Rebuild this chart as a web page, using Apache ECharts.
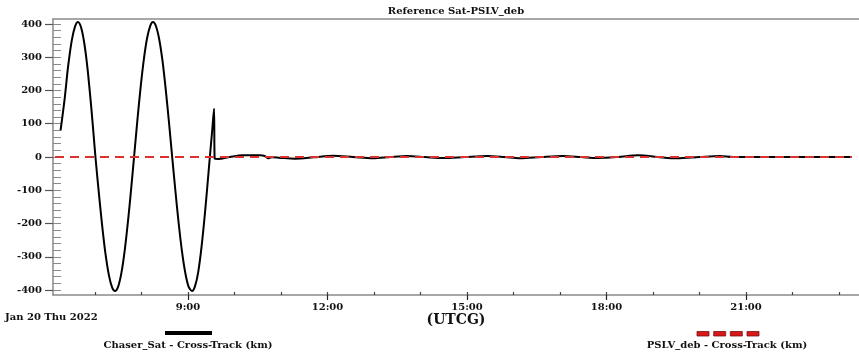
<!DOCTYPE html>
<html>
<head>
<meta charset="utf-8">
<title>Reference Sat-PSLV_deb</title>
<script src="https://cdn.jsdelivr.net/npm/echarts@6/dist/echarts.min.js"></script>
<style>
  html, body { margin: 0; padding: 0; background: #ffffff; }
  #chart { width: 859px; height: 354px; }
</style>
</head>
<body>
<div id="chart"></div>
<script>
// Cross-track separation, hours of Jan 20 2022 (UTCG)
const chaserHours = [
  6.26, 6.35, 6.42, 6.50, 6.57, 6.634, 6.70, 6.77, 6.84, 6.92, 6.97, 7.01,
  7.08, 7.15, 7.22, 7.30, 7.37, 7.43, 7.50, 7.57, 7.64, 7.72, 7.78, 7.84,
  7.91, 7.98, 8.05, 8.12, 8.19, 8.247, 8.31, 8.38, 8.45, 8.52, 8.59, 8.66,
  8.73, 8.80, 8.87, 8.94, 9.01, 9.086, 9.15, 9.22, 9.29, 9.36, 9.42, 9.47,
  9.52, 9.56, 9.575, 9.65, 9.90, 10.18, 10.55, 10.65, 10.72, 10.80, 10.95, 11.30,
  11.70, 12.12, 12.55, 12.98, 13.35, 13.71, 14.10, 14.48, 14.95, 15.43, 15.80, 16.14,
  16.60, 17.06, 17.45, 17.80, 18.25, 18.68, 19.10, 19.52, 20.00, 20.44, 20.72, 23.28
];
const chaserKm = [
  80, 178, 270, 350, 392, 406, 390, 342, 265, 149, 67, 0,
  -104, -201, -285, -356, -393, -403, -389, -347, -280, -179, -92, 0,
  108, 208, 293, 357, 395, 406, 394, 355, 291, 205, 106, 0,
  -103, -200, -283, -347, -389, -403, -389, -346, -272, -176, -82, 0,
  79, 145, -5, -6, 0, 5, 5, 3, -4, -1, -2, -5,
  -1, 4, 0, -4, 0, 3, 0, -3, 0, 3, 0, -4,
  0, 3, 0, -3, 0, 5, 0, -4, 0, 3, 0, 0
];
const debHours = [6.14, 23.28];
const debKm = [0, 0];

// Axis ticks and labels
const xMinorHours = [7, 8, 9, 10, 11, 12, 13, 14, 15, 16, 17, 18, 19, 20, 21, 22, 23];
const xLabelHours = [9, 12, 15, 18, 21];
const yLabelKm = [-400, -300, -200, -100, 0, 100, 200, 300, 400];
const yMinorStep = 20;

const X_MIN = 6.097, X_MAX = 23.43;
const Y_MIN = -415, Y_MAX = 415;

const yMinorKm = [];
for (let v = -400; v <= 400; v += yMinorStep) yMinorKm.push(v);

const FONT = '"DejaVu Serif", "Liberation Serif", serif';
const AXIS_GREY = '#8a8a8a';
const CHASER_COLOR = '#000000';
const DEB_COLOR = '#dd3030';

const zip = (a, b) => a.map((x, i) => [x, b[i]]);

const chart = echarts.init(document.getElementById('chart'), null, { renderer: 'canvas' });

chart.setOption({
  animation: false,
  backgroundColor: '#ffffff',
  grid: { left: 53, right: 0, top: 19, bottom: 59, containLabel: false },
  xAxis: [
    {
      type: 'value', position: 'bottom', min: X_MIN, max: X_MAX,
      axisLine: { show: true, onZero: false, lineStyle: { color: AXIS_GREY, width: 1.5 } },
      axisTick: { show: true, inside: true, length: 3, customValues: xMinorHours,
                  lineStyle: { color: '#444', width: 1.2 } },
      axisLabel: { show: false },
      splitLine: { show: false }
    },
    {
      type: 'value', position: 'bottom', min: X_MIN, max: X_MAX,
      axisLine: { show: false, onZero: false },
      axisTick: { show: true, inside: false, length: 5, customValues: xLabelHours,
                  lineStyle: { color: '#222', width: 1.2 } },
      axisLabel: {
        show: true, customValues: xLabelHours, margin: 7,
        formatter: v => Math.round(v) + ':00',
        fontFamily: FONT, fontWeight: 'bold', fontSize: 10, color: '#111'
      },
      splitLine: { show: false }
    },
    {
      type: 'value', position: 'top', min: X_MIN, max: X_MAX,
      axisLine: { show: true, onZero: false, lineStyle: { color: AXIS_GREY, width: 1.5 } },
      axisTick: { show: false }, axisLabel: { show: false }, splitLine: { show: false }
    }
  ],
  yAxis: [
    {
      type: 'value', position: 'left', min: Y_MIN, max: Y_MAX,
      axisLine: { show: true, onZero: false, lineStyle: { color: AXIS_GREY, width: 1.5 } },
      axisTick: { show: true, inside: true, length: 8, customValues: yMinorKm,
                  lineStyle: { color: AXIS_GREY, width: 1 } },
      axisLabel: { show: false },
      splitLine: { show: false }
    },
    {
      type: 'value', position: 'left', min: Y_MIN, max: Y_MAX,
      axisLine: { show: false, onZero: false },
      axisTick: { show: true, inside: false, length: 8, customValues: yLabelKm,
                  lineStyle: { color: '#555', width: 1.2 } },
      axisLabel: {
        show: true, customValues: yLabelKm, margin: 11,
        fontFamily: FONT, fontWeight: 'bold', fontSize: 10, color: '#111'
      },
      splitLine: { show: false }
    }
  ],
  series: [
    {
      name: 'Chaser_Sat - Cross-Track (km)', type: 'line',
      xAxisIndex: 0, yAxisIndex: 0,
      data: zip(chaserHours, chaserKm),
      showSymbol: false, smooth: 0.3,
      lineStyle: { color: CHASER_COLOR, width: 2 },
      z: 2
    },
    {
      name: 'PSLV_deb - Cross-Track (km)', type: 'line',
      xAxisIndex: 0, yAxisIndex: 0,
      data: zip(debHours, debKm),
      showSymbol: false,
      lineStyle: { color: DEB_COLOR, width: 2, type: [9, 6] },
      z: 3
    }
  ],
  graphic: [
    { type: 'text', x: 456, y: 11.5,
      style: { text: 'Reference Sat-PSLV_deb', font: 'bold 10px ' + FONT, fill: '#111',
               textAlign: 'center', textVerticalAlign: 'middle' } },
    { type: 'text', x: 5, y: 317,
      style: { text: 'Jan 20 Thu 2022', font: 'bold 10px ' + FONT, fill: '#111',
               textAlign: 'left', textVerticalAlign: 'middle' } },
    { type: 'text', x: 456, y: 320,
      style: { text: '(UTCG)', font: 'bold 14px ' + FONT, fill: '#111',
               textAlign: 'center', textVerticalAlign: 'middle' } },
    // legend: chaser
    { type: 'line', shape: { x1: 165, y1: 333, x2: 212, y2: 333 },
      style: { stroke: CHASER_COLOR, lineWidth: 4 } },
    { type: 'text', x: 188, y: 345,
      style: { text: 'Chaser_Sat - Cross-Track (km)', font: 'bold 10px ' + FONT, fill: '#111',
               textAlign: 'center', textVerticalAlign: 'middle' } },
    // legend: debris
    { type: 'rect', shape: { x: 697, y: 331.5, width: 12, height: 4.5 },
      style: { fill: '#d81818', stroke: '#7a1010', lineWidth: 0.8 } },
    { type: 'rect', shape: { x: 713.7, y: 331.5, width: 12, height: 4.5 },
      style: { fill: '#d81818', stroke: '#7a1010', lineWidth: 0.8 } },
    { type: 'rect', shape: { x: 730.3, y: 331.5, width: 12, height: 4.5 },
      style: { fill: '#d81818', stroke: '#7a1010', lineWidth: 0.8 } },
    { type: 'rect', shape: { x: 747, y: 331.5, width: 12, height: 4.5 },
      style: { fill: '#d81818', stroke: '#7a1010', lineWidth: 0.8 } },
    { type: 'text', x: 727, y: 345,
      style: { text: 'PSLV_deb - Cross-Track (km)', font: 'bold 10px ' + FONT, fill: '#111',
               textAlign: 'center', textVerticalAlign: 'middle' } }
  ]
});
</script>
</body>
</html>
